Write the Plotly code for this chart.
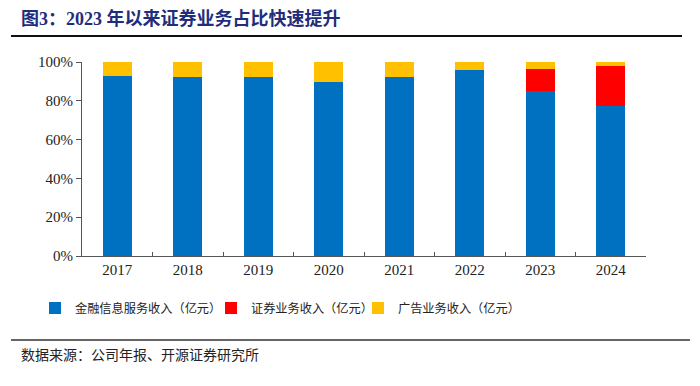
import plotly.graph_objects as go

years = ["2017", "2018", "2019", "2020", "2021", "2022", "2023", "2024"]
fin_info = [92.8, 92.5, 92.4, 89.7, 92.1, 95.9, 85.0, 77.3]
securities = [0, 0, 0, 0, 0, 0, 11.4, 20.6]
advertising = [7.2, 7.5, 7.6, 10.3, 7.9, 4.1, 3.6, 2.1]

names = ["金融信息服务收入（亿元）", "证券业务收入（亿元）", "广告业务收入（亿元）"]
colors = ["#0070C0", "#FF0000", "#FFC000"]
legend_ids = ["legend", "legend2", "legend3"]
legend_text_x = [73, 249, 396]  # pixel where each legend label starts

W, H = 700, 386
L, R, T, B = 82, 646, 62, 256  # plot area in pixels


def px(x):
    return (x - L) / (R - L)


def py(y):
    return (B - y) / (B - T)


fig = go.Figure()
for vals, name, col, lg in zip([fin_info, securities, advertising], names, colors, legend_ids):
    fig.add_trace(go.Bar(x=years, y=vals, name=name, marker_color=col,
                         marker_line_width=0, legend=lg))

serif = "Liberation Serif, Noto Sans CJK SC, serif"
cjk = "Noto Sans CJK SC, sans-serif"

legend_style = dict(orientation="h", xanchor="left", yanchor="middle",
                    font=dict(family=cjk, size=12.2, color="#222"),
                    itemwidth=30, bgcolor="rgba(0,0,0,0)")
legends = {}
for lg, tx in zip(legend_ids, legend_text_x):
    legends[lg] = dict(legend_style, x=px(tx - 38), y=py(308))

fig.update_layout(
    width=W, height=H,
    barmode="stack", barnorm="percent",
    bargap=0.59,
    plot_bgcolor="white", paper_bgcolor="white",
    margin=dict(l=L, r=W - R, t=T, b=H - B, pad=0, autoexpand=False),
    showlegend=True,
    **legends,
    xaxis=dict(type="category", showline=True, linecolor="#555", linewidth=1,
               ticks="inside", tickson="boundaries", ticklen=4, tickcolor="#555",
               tickfont=dict(family=serif, size=15, color="#222"), showgrid=False),
    yaxis=dict(range=[0, 100], dtick=20, ticksuffix="%", showline=True, linecolor="#555",
               linewidth=1, ticks="outside", ticklen=5, tickcolor="#555",
               tickfont=dict(family=serif, size=15, color="#222"), showgrid=False,
               zeroline=False),
    shapes=[
        dict(type="line", xref="paper", yref="paper", x0=px(11), x1=px(682),
             y0=py(36), y1=py(36), line=dict(color="#111", width=2)),
        dict(type="line", xref="paper", yref="paper", x0=px(11), x1=px(690),
             y0=py(340), y1=py(340), line=dict(color="#333", width=1.5)),
    ],
    annotations=[
        dict(text="<b>图3：2023 年以来证券业务占比快速提升</b>", xref="paper", yref="paper",
             x=px(19), y=py(19), xanchor="left", yanchor="middle", showarrow=False,
             font=dict(family=serif, size=18, color="#1F2D7B")),
        dict(text="数据来源：公司年报、开源证券研究所", xref="paper", yref="paper",
             x=px(19), y=py(354), xanchor="left", yanchor="middle", showarrow=False,
             font=dict(family=cjk, size=14, color="#222")),
    ],
)

fig.write_html("out.html", config={"displayModeBar": False},
               post_script="document.body.style.margin='0';")
